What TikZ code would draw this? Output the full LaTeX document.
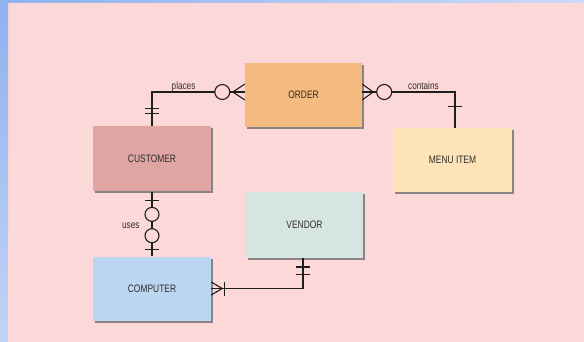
\documentclass[tikz,border=0pt]{standalone}
\usepackage{fontspec}
\setmainfont{Liberation Sans}[FakeStretch=0.78]
\usetikzlibrary{shadows,calc}
\definecolor{bgpink}{HTML}{FCD8D8}
\definecolor{blueA}{HTML}{8FB1EE}
\definecolor{blueB}{HTML}{CBDAF8}
\definecolor{blueC}{HTML}{C2D4F5}
\definecolor{orderc}{HTML}{F5BA7E}
\definecolor{custc}{HTML}{E0A5A3}
\definecolor{menuc}{HTML}{FDE3B5}
\definecolor{vendc}{HTML}{D6E5E2}
\definecolor{compc}{HTML}{BBD6F1}
\definecolor{txt}{HTML}{2E2E2E}
\definecolor{ln}{HTML}{1E1E1E}
\definecolor{shadowc}{HTML}{6E6E6E}
\begin{document}
\begin{tikzpicture}[x=1pt,y=-1pt,
  ent/.style={rectangle, minimum width=118pt, minimum height=65pt, inner sep=0pt, text=txt,
    font=\fontsize{10.8}{12}\selectfont,
    drop shadow={shadow xshift=2pt, shadow yshift=-2pt, fill=shadowc, opacity=0.8}},
  conn/.style={draw=ln, line width=1.1pt},
  lbl/.style={text=txt, font=\fontsize{10.5}{12}\selectfont, inner sep=0pt},
  ring/.style={draw=ln, line width=1.1pt, fill=bgpink}]
\useasboundingbox (0,0) rectangle (584,342);
\fill[bgpink] (0,0) rectangle (584,342);
\shade[left color=blueA, right color=blueB] (0,0) rectangle (584,3);
\shade[top color=blueA, bottom color=blueC] (0,0) rectangle (8,342);

% entities
\node[ent, fill=orderc, minimum width=117pt, minimum height=64pt] (ORDER) at (303.5,95) {ORDER};
\node[ent, fill=custc] (CUST) at (152,159) {CUSTOMER};
\node[ent, fill=menuc, minimum width=119pt, minimum height=64pt] (MENU) at (452.5,160) {MENU ITEM};
\node[ent, fill=vendc, minimum width=117pt] (VEND) at (304.5,225) {VENDOR};
\node[ent, fill=compc, minimum height=64pt] (COMP) at (152,288.5) {COMPUTER};

% CUSTOMER -- ORDER (places)
\coordinate (oL) at ($(ORDER.west)+(0,-3)$);
\draw[conn] (CUST.north) |- (oL) node[lbl, anchor=base, pos=0.67, yshift=2pt] {places};
\draw[conn] ($(oL)+(0,-8)$) -- ($(oL)+(-12,0)$) -- ($(oL)+(0,8)$);
\draw[ring] ($(oL)+(-22.5,0)$) circle[radius=7.5];
\draw[conn] ($(CUST.north)+(-7,-18)$) -- ++(14,0);
\draw[conn] ($(CUST.north)+(-7,-13)$) -- ++(14,0);

% ORDER -- MENU ITEM (contains)
\coordinate (oR) at ($(ORDER.east)+(0,-3)$);
\coordinate (mT) at ($(MENU.north)+(2.5,0)$);
\draw[conn] (oR) -| (mT) node[lbl, anchor=base, pos=0.33, yshift=2pt] {contains};
\draw[conn] ($(oR)+(0,-8)$) -- ($(oR)+(11,0)$) -- ($(oR)+(0,8)$);
\draw[ring] ($(oR)+(22,0)$) circle[radius=7.5];
\draw[conn] ($(mT)+(-7,-21)$) -- ++(14,0);

% CUSTOMER -- COMPUTER (uses)
\draw[conn] (CUST.south) -- (COMP.north) node[lbl, midway, left=12pt, yshift=-2pt] {uses};
\draw[conn] ($(CUST.south)+(-7,8.7)$) -- ++(14,0);
\draw[ring] ($(CUST.south)+(0,22.7)$) circle[radius=7];
\draw[ring] ($(CUST.south)+(0,44)$) circle[radius=7];
\draw[conn] ($(COMP.north)+(-7,-6.5)$) -- ++(14,0);

% COMPUTER -- VENDOR
\coordinate (vB) at ($(VEND.south)+(-1.5,0)$);
\draw[conn] (COMP.east) -| (vB);
\draw[conn] ($(COMP.east)+(0,-6.5)$) -- ($(COMP.east)+(11,0)$) -- ($(COMP.east)+(0,6.5)$);
\draw[conn] ($(COMP.east)+(13.5,-7)$) -- ++(0,14);
\draw[conn] ($(vB)+(-7,9.3)$) -- ++(14,0);
\draw[conn] ($(vB)+(-7,17)$) -- ++(14,0);
\end{tikzpicture}
\end{document}
